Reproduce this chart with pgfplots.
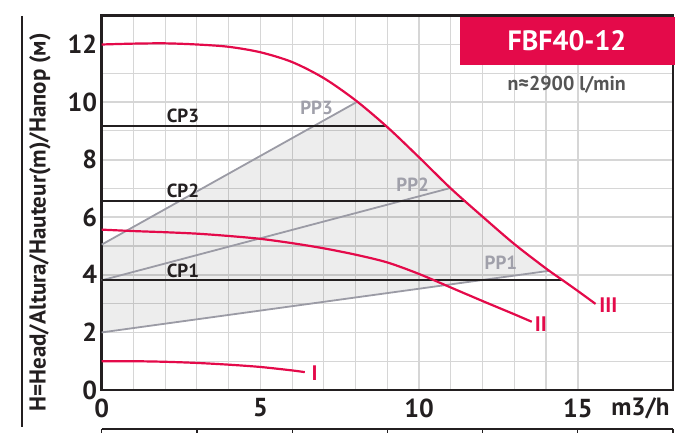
\documentclass[border=0pt]{standalone}
\usepackage{pgfplots}
\pgfplotsset{compat=1.18}
\usepackage{fontspec}
\setmainfont{PT Sans}
\definecolor{pumpred}{RGB}{228,10,74}
\definecolor{ppgray}{RGB}{155,155,165}
\definecolor{pptext}{RGB}{160,160,170}
\definecolor{gridgray}{RGB}{214,214,214}
\definecolor{textgray}{RGB}{85,85,85}
\definecolor{ink}{RGB}{35,31,32}
\begin{document}
\begin{tikzpicture}
\useasboundingbox (-101.7pt,-42pt) rectangle (591.3pt,390pt);
\begin{axis}[
  scale only axis, width=571.3pt, height=374.3pt,
  xmin=0, xmax=18, ymin=0, ymax=13,
  xtick={0,5,10,15}, ytick={0,2,...,12},
  minor x tick num=4, minor y tick num=1,
  grid=both,
  major grid style={gridgray, line width=1.7pt},
  minor grid style={gridgray, line width=1.1pt},
  major tick length=0pt, minor tick length=0pt,
  axis line style={ink, line width=2.4pt},
  tick label style={font=\fontsize{26}{26}\selectfont\bfseries, text=ink},
  xticklabel style={yshift=-5pt},
  yticklabel style={xshift=-1pt},
  /pgf/number format/assume math mode=true,
  clip=false,
]
% shaded operating region
\addplot[draw=none, fill=black, fill opacity=0.07] coordinates {
  (0,2.0) (0,5.05) (8.05,10.01) (9,9.13) (10,8.08) (11,7.0) (12,6.02) (13,5.07) (14.1,4.14) } -- cycle;
% PP lines
\addplot[ppgray, line width=1.8pt] coordinates {(0,5.05) (8.05,10.01)};
\addplot[ppgray, line width=1.8pt] coordinates {(0,3.81) (11.0,7.02)};
\addplot[ppgray, line width=1.8pt] coordinates {(0,2.0) (14.1,4.14)};
% CP lines
\addplot[ink, line width=2pt] coordinates {(0,9.17) (8.98,9.17)};
\addplot[ink, line width=2pt] coordinates {(0,6.56) (11.47,6.56)};
\addplot[ink, line width=2pt] coordinates {(0,3.81) (14.54,3.81)};
% curves
\addplot[pumpred, line width=2.2pt, smooth] coordinates {
  (0,12) (1,12.03) (2,12.04) (3,12.0) (4,11.92) (5,11.73) (6,11.39) (7,10.83) (8,10.06)
  (9,9.13) (10,8.08) (11,7.0) (12,6.02) (13,5.07) (14,4.22) (14.54,3.8) (15,3.44) (15.56,2.99)};
\addplot[pumpred, line width=2.2pt, smooth] coordinates {
  (0,5.57) (1,5.52) (2,5.48) (3,5.43) (4,5.35) (5,5.25) (6,5.1) (7,4.92) (8,4.7)
  (9,4.43) (10,4.03) (11,3.56) (12,3.09) (13,2.63) (13.55,2.37)};
\addplot[pumpred, line width=2.2pt, smooth] coordinates {
  (0,1.0) (1,1.0) (2,0.98) (3,0.94) (4,0.88) (5,0.8) (6,0.68) (6.4,0.62)};
% labels
\node[text=ink, font=\fontsize{19}{19}\selectfont\bfseries] at (axis cs:2.56,9.51) {CP3};
\node[text=ink, font=\fontsize{19}{19}\selectfont\bfseries] at (axis cs:2.56,6.91) {CP2};
\node[text=ink, font=\fontsize{19}{19}\selectfont\bfseries] at (axis cs:2.56,4.15) {CP1};
\node[text=pptext, font=\fontsize{19}{19}\selectfont\bfseries] at (axis cs:6.77,9.8) {PP3};
\node[text=pptext, font=\fontsize{19}{19}\selectfont\bfseries] at (axis cs:9.8,7.14) {PP2};
\node[text=pptext, font=\fontsize{19}{19}\selectfont\bfseries] at (axis cs:12.58,4.41) {PP1};
\node[text=pumpred, font=\fontsize{21}{21}\selectfont\bfseries] at (axis cs:6.71,0.6) {I};
\node[text=pumpred, font=\fontsize{21}{21}\selectfont\bfseries] at (axis cs:13.84,2.29) {II};
\node[text=pumpred, font=\fontsize{21}{21}\selectfont\bfseries] at (axis cs:15.96,2.96) {III};
\end{axis}
% title box
\fill[pumpred] (358.3pt,325pt) rectangle (573.3pt,373.3pt);
\node[text=white, font=\fontsize{28}{28}\selectfont\bfseries] at (465.3pt,349pt) {FBF40-12};
\node[text=textgray, font=\fontsize{20}{20}\selectfont\bfseries] at (465pt,305pt) {n≈2900 l/min};
% axis labels
\node[rotate=90, text=ink, font=\fontsize{23}{23}\selectfont\bfseries] at (-61.7pt,167.5pt) {H=Head/Altura/Hauteur(m)/Напор (м)};
\node[anchor=base east, text=ink, font=\fontsize{25}{25}\selectfont\bfseries] at (571.3pt,-25pt) {m3/h};
% decorative frame pieces
\draw[ink, line width=1.2pt] (-79.7pt,374pt) -- (-79.7pt,-37pt);
\draw[ink, line width=1.2pt] (0pt,-39pt) -- (571.3pt,-39pt);
\foreach \i in {0,...,6} \draw[ink, line width=1.2pt] (\i*95.2pt,-39pt) -- ++(0,-5pt);
\end{tikzpicture}
\end{document}
